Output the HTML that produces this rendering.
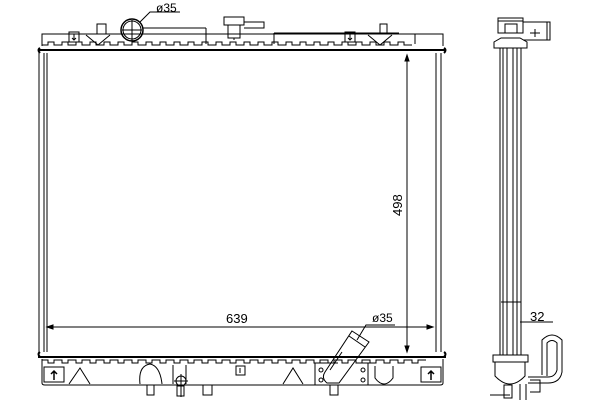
<!DOCTYPE html>
<html><head><style>html,body{margin:0;padding:0;background:#fff}svg{display:block}</style></head>
<body>
<svg width="600" height="400" viewBox="0 0 600 400" xmlns="http://www.w3.org/2000/svg" font-family="Liberation Sans, sans-serif" fill="none" stroke="#000" stroke-width="1">
<defs><clipPath id="c"><rect x="42" y="0" width="401" height="400"/></clipPath></defs>
<rect width="600" height="400" fill="#fff" stroke="none"/>
<!-- TOP TANK -->
<path d="M42 46 L42 34 L443 34 L443 46"/>
<g clip-path="url(#c)">
<path d="M42 45 h6 v-3 h6 v3 h8 v-3 h6 v3 h8 v-3 h6 v3 h8 v-3 h6 v3 h8 v-3 h6 v3 h8 v-3 h6 v3 h8 v-3 h6 v3 h8 v-3 h6 v3 h8 v-3 h6 v3 h8 v-3 h6 v3 h8 v-3 h6 v3 h8 v-3 h6 v3 h8 v-3 h6 v3 h8 v-3 h6 v3 h8 v-3 h6 v3 h8 v-3 h6 v3 h8 v-3 h6 v3 h8 v-3 h6 v3 h8 v-3 h6 v3 h8 v-3 h6 v3 h8 v-3 h6 v3 h8 v-3 h6 v3 h8 v-3 h6 v3 h8 v-3 h6 v3 h8 v-3 h6 v3 h8 v-3 h6 v3 h8"/>
<path d="M42 360 h6 v3 h6 v-3 h8 v3 h6 v-3 h8 v3 h6 v-3 h8 v3 h6 v-3 h8 v3 h6 v-3 h8 v3 h6 v-3 h8 v3 h6 v-3 h8 v3 h6 v-3 h8 v3 h6 v-3 h8 v3 h6 v-3 h8 v3 h6 v-3 h8 v3 h6 v-3 h8 v3 h6 v-3 h8 v3 h6 v-3 h8 v3 h6 v-3 h8 v3 h6 v-3 h8 v3 h6 v-3 h8 v3 h6 v-3 h8 v3 h6 v-3 h8 v3 h6 v-3 h8 v3 h6 v-3 h8 v3 h6 v-3 h8 v3 h6 v-3 h8 v3 h6 v-3 h8 v3 h6 v-3 h8 v3 h6 v-3 h8 v3 h6 v-3 h8"/>
</g>
<line x1="38" y1="50" x2="446" y2="50" stroke-width="2"/>
<path d="M40 48 q-3 2 0 5 M444 48 q3 2 0 5" stroke-width="2"/>
<rect x="69" y="32" width="10" height="10"/><path d="M74 34 v6 M72 38 l2 2 2-2"/>
<rect x="345" y="32" width="10" height="10"/><path d="M350 34 v6 M348 38 l2 2 2-2"/>
<path d="M86 35 l12 10 l12 -10 M368 35 l12 10 l12 -10"/>
<rect x="97" y="24" width="9" height="10"/><rect x="380" y="24" width="7" height="10"/>
<circle cx="132" cy="30" r="11" stroke-width="1.5"/><circle cx="132" cy="30" r="9"/>
<path d="M132 20 v22 M122 30 h20 M140 22 L150 12 H180"/>
<text x="156" y="12" font-size="12" fill="#000" stroke="none">ø35</text>
<path d="M143 28 H206 M206 28 V44 M274 33 H399 M274 33 V44 M415 34 V44"/>
<rect x="224" y="17" width="20" height="8"/><rect x="228" y="25" width="12" height="13"/>
<path d="M244 22 h20 v6 h-20 M234 38 v2"/>
<!-- CORE -->
<path d="M39 53 V352 M44 53 V352 M47 53 V352 M436 53 V352 M441 53 V352"/>
<!-- dims -->
<path d="M47 327 H433 M407 55 V352"/>
<path d="M47 327 l6 -2 v4 z M433 327 l-6 -2 v4 z M407 55 l-2 6 h4 z M407 352 l-2 -6 h4 z" fill="#000"/>
<text x="226" y="323" font-size="13" fill="#000" stroke="none">639</text>
<text x="0" y="0" font-size="13" fill="#000" stroke="none" transform="translate(402,216) rotate(-90)">498</text>
<!-- BOTTOM TANK -->
<line x1="38" y1="357" x2="446" y2="357" stroke-width="2"/>
<path d="M40 352 q-3 2 0 5 M444 352 q3 2 0 5" stroke-width="2"/>
<path d="M42 359 V383 Q42 385 45 385 H440 Q443 385 443 383 V359"/>
<rect x="44" y="367" width="20" height="15"/><path d="M54 380 v-8 M51 374 l3 -3 3 3" stroke-width="1.5"/>
<rect x="421" y="367" width="20" height="15"/><path d="M431 380 v-8 M428 374 l3 -3 3 3" stroke-width="1.5"/>
<rect x="236" y="366" width="9" height="9"/><path d="M240 373 v-5"/>
<path d="M69 384 L80 368 L90 384 M283 384 L293 368 L303 384"/>
<path d="M140 384 Q138 366 150 364 Q160 366 162 384"/>
<path d="M375 366 V378 Q384 390 393 378 V366"/>
<path d="M173 365 V384 M186 365 V384"/>
<circle cx="181" cy="381" r="5"/><path d="M174 381 h14 M181 374 v23"/>
<rect x="147" y="385" width="7" height="10"/><rect x="203" y="385" width="9" height="10"/><rect x="330" y="385" width="8" height="10"/><rect x="177" y="386" width="7" height="10"/>
<path d="M315 363 V385 H368 V363 M314 363 H338 M362 363 H374"/>
<circle cx="321" cy="370" r="2"/><circle cx="321" cy="380" r="2"/><circle cx="363" cy="370" r="2"/><circle cx="363" cy="380" r="2"/>
<path d="M352 331 L369 342 L339 383 L327 383 Q321 378 325 372 Z"/>
<path d="M349 336 L365 347 M342 352 L330 370"/>
<path d="M357 340 L366 325 H395"/>
<text x="372" y="322" font-size="12" fill="#000" stroke="none">ø35</text>
<!-- SIDE VIEW -->
<path d="M500 48 V355 M503 48 V355 M507 48 V355 M513 48 V355 M517 48 V355 M521 48 V355"/>
<path d="M501 302 H521 M500 355 H521"/>
<path d="M494 48 H527 V42 L520 38 H501 L494 42 Z"/>
<rect x="498" y="18" width="25" height="15"/><path d="M498 21 H523"/>
<path d="M505 33 V24 H517 V33"/>
<path d="M523 22 H550 V40 H523 M547 22 V40 M530 33 H540 M535 29 V37"/>
<path d="M493 355 H528 V362 H493 Z M495 362 V376 Q510 392 525 376 V362"/>
<path d="M504 385 H512 V398 H504 Z M520 384 V400 M526 384 V400 M490 395 H510 M530 380 H540 V392 H530"/>
<path d="M542 375 V340 Q552 330 562 340 V372 Q560 383 548 383 H528 M547 376 V343 Q552 338 557 343 V370 Q555 377 548 377 H528"/>
<path d="M520 322 H553"/>
<text x="530" y="321" font-size="13" fill="#000" stroke="none">32</text>
</svg>
</body></html>
